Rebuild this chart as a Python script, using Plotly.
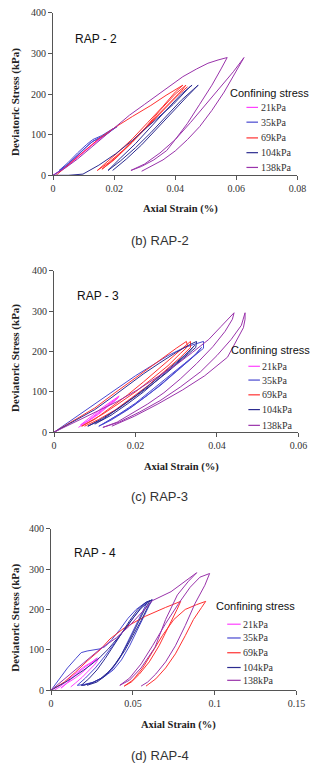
import plotly.graph_objects as go

# ---------------- data ----------------
SERIES = ["21kPa", "35kPa", "69kPa", "104kPa", "138kPa"]
COLORS = ["#ff40ff", "#4848d0", "#ff3030", "#2c2c90", "#9933aa"]
Y_TICKS = [0, 100, 200, 300, 400]
X_TICKS_RAP2 = [0, 0.02, 0.04, 0.06, 0.08]
X_TICKS_RAP3 = [0, 0.02, 0.04, 0.06]
X_TICKS_RAP4 = [0, 0.05, 0.1, 0.15]

# ---- RAP-2 ----
rap2_21_x = [0, 0.003, 0.006, 0.009, 0.012, 0.015, 0.018, 0.02, 0.017, 0.013, 0.009, 0.005, 0.002, 0.005, 0.009, 0.013, 0.017, 0.019]
rap2_21_y = [0, 15, 33, 52, 72, 90, 106, 116, 100, 76, 50, 26, 8, 24, 50, 76, 98, 110]
rap2_35_x = [0, 0.002, 0.005, 0.008, 0.011, 0.013, 0.015, 0.018, 0.021, 0.019, 0.016, 0.013, 0.011, 0.008, 0.005, 0.002, 0.004, 0.008, 0.012, 0.014, 0.017, 0.02]
rap2_35_y = [0, 10, 28, 48, 70, 84, 90, 104, 120, 112, 98, 88, 76, 55, 32, 12, 22, 50, 78, 88, 100, 116]
rap2_69_x = [0.001, 0.005, 0.01, 0.015, 0.0205, 0.026, 0.032, 0.037, 0.0425, 0.04, 0.036, 0.031, 0.026, 0.021, 0.017, 0.0145, 0.018, 0.023, 0.028, 0.033, 0.038, 0.042, 0.0435, 0.04, 0.035, 0.03, 0.025, 0.02, 0.016, 0.02, 0.026, 0.032, 0.037, 0.041, 0.044]
rap2_69_y = [0, 25, 58, 90, 119, 145, 172, 197, 222, 205, 170, 130, 90, 55, 28, 12, 30, 62, 100, 138, 175, 208, 222, 200, 160, 115, 75, 40, 15, 38, 82, 128, 168, 198, 218]
rap2_104_x = [0, 0.005, 0.0098, 0.015, 0.0205, 0.026, 0.0309, 0.035, 0.0394, 0.0445, 0.0455, 0.042, 0.037, 0.032, 0.027, 0.022, 0.018, 0.022, 0.027, 0.032, 0.037, 0.042, 0.046, 0.0475, 0.044, 0.039, 0.034, 0.029, 0.024, 0.0195]
rap2_104_y = [0, 0, 3, 25, 53, 86, 119, 147, 175, 216, 222, 200, 160, 118, 78, 42, 12, 35, 68, 105, 145, 185, 212, 222, 195, 155, 115, 75, 40, 12]
rap2_138_x = [0, 0.004, 0.008, 0.012, 0.016, 0.0205, 0.025, 0.03, 0.036, 0.0425, 0.047, 0.0507, 0.054, 0.057, 0.055, 0.052, 0.048, 0.044, 0.04, 0.0372, 0.033, 0.029, 0.0255, 0.03, 0.035, 0.04, 0.045, 0.05, 0.055, 0.059, 0.0625, 0.06, 0.056, 0.052, 0.048, 0.044, 0.04, 0.036, 0.032, 0.029]
rap2_138_y = [0, 18, 40, 65, 90, 119, 148, 175, 208, 243, 262, 276, 284, 290, 262, 222, 175, 128, 88, 61, 38, 22, 12, 28, 55, 88, 130, 175, 220, 255, 290, 258, 205, 160, 120, 88, 60, 38, 22, 10]

# ---- RAP-3 ----
rap3_21_x = [0.006, 0.008, 0.011, 0.013, 0.015, 0.016, 0.0145, 0.012, 0.0095, 0.0075, 0.0065, 0.009, 0.0115, 0.014, 0.0158, 0.0135, 0.011, 0.0085]
rap3_21_y = [12, 25, 45, 62, 78, 90, 80, 62, 42, 26, 18, 32, 52, 70, 86, 70, 50, 30]
rap3_35_x = [0, 0.004, 0.008, 0.0103, 0.013, 0.016, 0.02, 0.024, 0.028, 0.032, 0.0355, 0.0367, 0.0367, 0.0345, 0.031, 0.027, 0.023, 0.019, 0.015, 0.011, 0.014, 0.018, 0.022, 0.026, 0.03, 0.034, 0.0362, 0.035, 0.032, 0.028, 0.024, 0.02, 0.016, 0.012]
rap3_35_y = [0, 28, 55, 72, 92, 112, 140, 165, 190, 210, 222, 225, 208, 190, 160, 125, 92, 62, 38, 15, 30, 55, 85, 115, 150, 185, 210, 195, 170, 138, 105, 72, 45, 20]
rap3_69_x = [0, 0.005, 0.01, 0.015, 0.02, 0.025, 0.03, 0.0325, 0.0328, 0.031, 0.028, 0.024, 0.02, 0.016, 0.012, 0.0085, 0.0068, 0.01, 0.014, 0.018, 0.022, 0.026, 0.03, 0.0335, 0.0335, 0.031, 0.027, 0.023, 0.019, 0.015, 0.011, 0.0075]
rap3_69_y = [0, 30, 60, 98, 135, 170, 208, 225, 212, 195, 165, 132, 100, 72, 45, 25, 15, 32, 62, 92, 125, 160, 195, 225, 210, 185, 150, 115, 85, 55, 32, 15]
rap3_104_x = [0, 0.005, 0.01, 0.014, 0.018, 0.022, 0.026, 0.03, 0.0335, 0.035, 0.0348, 0.032, 0.028, 0.024, 0.02, 0.016, 0.012, 0.0083, 0.012, 0.016, 0.02, 0.024, 0.028, 0.032, 0.0345, 0.033, 0.03, 0.026, 0.022, 0.018, 0.014, 0.01]
rap3_104_y = [0, 27, 56, 85, 115, 145, 172, 198, 218, 225, 210, 185, 150, 118, 88, 60, 35, 15, 32, 60, 90, 122, 155, 190, 215, 198, 170, 135, 100, 70, 42, 20]
rap3_138_x = [0, 0.005, 0.01, 0.0155, 0.0205, 0.025, 0.03, 0.034, 0.038, 0.041, 0.0442, 0.0438, 0.042, 0.039, 0.035, 0.031, 0.027, 0.023, 0.019, 0.0155, 0.012, 0.016, 0.021, 0.026, 0.031, 0.036, 0.04, 0.0435, 0.046, 0.0469, 0.0469, 0.0465, 0.0426, 0.037, 0.0316, 0.0255, 0.0198, 0.0142]
rap3_138_y = [0, 24, 48, 76, 105, 135, 167, 198, 230, 262, 296, 280, 250, 212, 170, 132, 98, 70, 45, 25, 12, 25, 50, 78, 112, 150, 190, 230, 265, 296, 280, 259, 186, 140, 105, 70, 40, 15]

# ---- RAP-4 ----
rap4_21_x = [0.002, 0.006, 0.01, 0.015, 0.02, 0.025, 0.0282, 0.026, 0.022, 0.018, 0.014, 0.01, 0.006, 0.009, 0.013, 0.017, 0.021, 0.025, 0.029, 0.027, 0.023, 0.019, 0.015, 0.012]
rap4_21_y = [0, 10, 25, 42, 58, 70, 80, 72, 55, 40, 28, 18, 5, 15, 30, 45, 58, 68, 78, 65, 48, 32, 18, 8]
rap4_35_x = [0, 0.005, 0.01, 0.015, 0.0184, 0.022, 0.0265, 0.0294, 0.033, 0.037, 0.042, 0.047, 0.052, 0.057, 0.062, 0.06, 0.057, 0.053, 0.048, 0.043, 0.038, 0.032, 0.026, 0.02, 0.016, 0.021, 0.027, 0.033, 0.039, 0.045, 0.05, 0.055, 0.059, 0.056, 0.052, 0.047, 0.042, 0.037, 0.031, 0.025, 0.019]
rap4_35_y = [0, 28, 55, 78, 93, 97, 100, 102, 108, 125, 150, 178, 200, 215, 224, 210, 185, 150, 110, 75, 50, 32, 20, 14, 12, 30, 55, 85, 118, 150, 180, 205, 220, 195, 160, 120, 80, 50, 30, 18, 12]
rap4_69_x = [0, 0.008, 0.015, 0.022, 0.03, 0.036, 0.045, 0.0576, 0.07, 0.0792, 0.077, 0.072, 0.066, 0.06, 0.054, 0.049, 0.0447, 0.05, 0.056, 0.062, 0.068, 0.075, 0.082, 0.089, 0.0945, 0.092, 0.087, 0.082, 0.076, 0.07, 0.064, 0.058]
rap4_69_y = [0, 20, 45, 72, 100, 127, 155, 183, 205, 220, 200, 160, 110, 70, 40, 20, 10, 25, 55, 95, 135, 175, 200, 212, 220, 205, 175, 135, 90, 55, 28, 10]
rap4_104_x = [0, 0.004, 0.008, 0.012, 0.016, 0.02, 0.025, 0.03, 0.035, 0.04, 0.045, 0.05, 0.055, 0.06, 0.0616, 0.059, 0.055, 0.05, 0.045, 0.04, 0.035, 0.03, 0.025, 0.02, 0.0184, 0.023, 0.028, 0.033, 0.038, 0.043, 0.048, 0.053, 0.058, 0.0605, 0.057, 0.053, 0.048, 0.043, 0.038, 0.033, 0.028, 0.022]
rap4_104_y = [0, 8, 18, 28, 38, 50, 65, 82, 102, 125, 150, 178, 203, 220, 224, 205, 172, 135, 98, 68, 45, 28, 18, 12, 12, 28, 50, 78, 108, 140, 172, 200, 218, 222, 198, 165, 125, 88, 58, 35, 20, 12]
rap4_138_x = [0, 0.01, 0.02, 0.03, 0.04, 0.0476, 0.055, 0.062, 0.0733, 0.08, 0.089, 0.084, 0.0772, 0.07, 0.0635, 0.055, 0.048, 0.042, 0.048, 0.055, 0.062, 0.07, 0.078, 0.085, 0.091, 0.0969, 0.094, 0.088, 0.082, 0.076, 0.07, 0.064, 0.059, 0.055]
rap4_138_y = [0, 35, 68, 102, 130, 158, 190, 222, 244, 265, 291, 270, 236, 175, 106, 55, 25, 12, 30, 65, 110, 165, 215, 255, 280, 289, 260, 215, 160, 110, 70, 40, 20, 10]

PANELS = [
    dict(name="RAP - 2", caption="(b) RAP-2", xrange=[0, 0.08], xticks=X_TICKS_RAP2,
         data=[(rap2_21_x, rap2_21_y), (rap2_35_x, rap2_35_y), (rap2_69_x, rap2_69_y),
               (rap2_104_x, rap2_104_y), (rap2_138_x, rap2_138_y)]),
    dict(name="RAP - 3", caption="(c) RAP-3", xrange=[0, 0.06], xticks=X_TICKS_RAP3,
         data=[(rap3_21_x, rap3_21_y), (rap3_35_x, rap3_35_y), (rap3_69_x, rap3_69_y),
               (rap3_104_x, rap3_104_y), (rap3_138_x, rap3_138_y)]),
    dict(name="RAP - 4", caption="(d) RAP-4", xrange=[0, 0.15], xticks=X_TICKS_RAP4,
         data=[(rap4_21_x, rap4_21_y), (rap4_35_x, rap4_35_y), (rap4_69_x, rap4_69_y),
               (rap4_104_x, rap4_104_y), (rap4_138_x, rap4_138_y)]),
]

# ---------------- layout geometry (pixels) ----------------
W, H = 318, 769
def px(x): return x / W
def py(y): return 1 - y / H

GEOM = [
    dict(x0=52, x1=306, ytop=7, ybot=172, ytitle_y=98, xtitle=(184, 206), cap=(163, 238),
         label=(97, 34), conf=(235, 88), leg_line=(253, 265), leg_text=267, rows=[103, 118, 134, 149, 164]),
    dict(x0=53, x1=307, ytop=269, ybot=433, ytitle_y=358, xtitle=(186, 468), cap=(163, 498),
         label=(99, 295), conf=(236, 349), leg_line=(255, 267), leg_text=268, rows=[366, 380, 395, 410, 426]),
    dict(x0=50, x1=305, ytop=531, ybot=695, ytitle_y=622, xtitle=(182, 730), cap=(163, 761),
         label=(96, 556), conf=(220, 610), leg_line=(233, 247), leg_text=248, rows=[628, 642, 657, 672, 685]),
]

SERIF = "Liberation Serif"
SANS = "Liberation Sans"

fig = go.Figure()
layout = dict(width=W, height=H, margin=dict(l=0, r=0, t=0, b=0), autosize=False,
              paper_bgcolor="white", plot_bgcolor="white", showlegend=False)
annotations = []
shapes = []


def note(text, x, y, font, xanchor="center", angle=0):
    return dict(text=text, x=px(x), y=py(y), xref="paper", yref="paper",
                showarrow=False, xanchor=xanchor, yanchor="middle", textangle=angle,
                font=font, borderpad=0)


for i, (p, g) in enumerate(zip(PANELS, GEOM)):
    sfx = "" if i == 0 else str(i + 1)
    for (xs, ys), name, col in zip(p["data"], SERIES, COLORS):
        fig.add_trace(go.Scatter(x=xs, y=ys, mode="lines", name=name,
                                 line=dict(color=col, width=1),
                                 xaxis="x" + sfx, yaxis="y" + sfx))
    axis_common = dict(showgrid=False, zeroline=False, showline=True, linecolor="#555",
                       linewidth=1, ticks="outside", ticklen=4, tickcolor="#555",
                       tickfont=dict(family=SERIF, size=10, color="#333"))
    layout["xaxis" + sfx] = dict(axis_common, domain=[px(g["x0"]), px(g["x1"])],
                                 range=p["xrange"], tickvals=p["xticks"],
                                 anchor="y" + sfx)
    layout["yaxis" + sfx] = dict(axis_common, domain=[py(g["ybot"]), py(g["ytop"])],
                                 range=[0, 400], tickvals=Y_TICKS, anchor="x" + sfx)
    annotations.append(note("<b>Deviatoric Stress (kPa)</b>", 13, g["ytitle_y"],
                            dict(family=SERIF, size=11, color="#222"), angle=-90))
    annotations.append(note("<b>Axial Strain (%)</b>", g["xtitle"][0], g["xtitle"][1],
                            dict(family=SERIF, size=10.5, color="#222")))
    annotations.append(note(p["caption"], g["cap"][0], g["cap"][1],
                            dict(family=SANS, size=13, color="#333")))
    annotations.append(note(p["name"], g["label"][0], g["label"][1],
                            dict(family=SANS, size=12, color="#111")))
    annotations.append(note("Confining stress", g["conf"][0], g["conf"][1],
                            dict(family=SANS, size=11, color="#111"), xanchor="left"))
    for name, col, row in zip(SERIES, COLORS, g["rows"]):
        shapes.append(dict(type="line", xref="paper", yref="paper",
                           x0=px(g["leg_line"][0]), x1=px(g["leg_line"][1]),
                           y0=py(row), y1=py(row), line=dict(color=col, width=1.2)))
        annotations.append(note(name, g["leg_text"], row,
                                dict(family=SERIF, size=10, color="#333"), xanchor="left"))

layout["annotations"] = annotations
layout["shapes"] = shapes
fig.update_layout(**layout)
fig.write_html("out.html")
